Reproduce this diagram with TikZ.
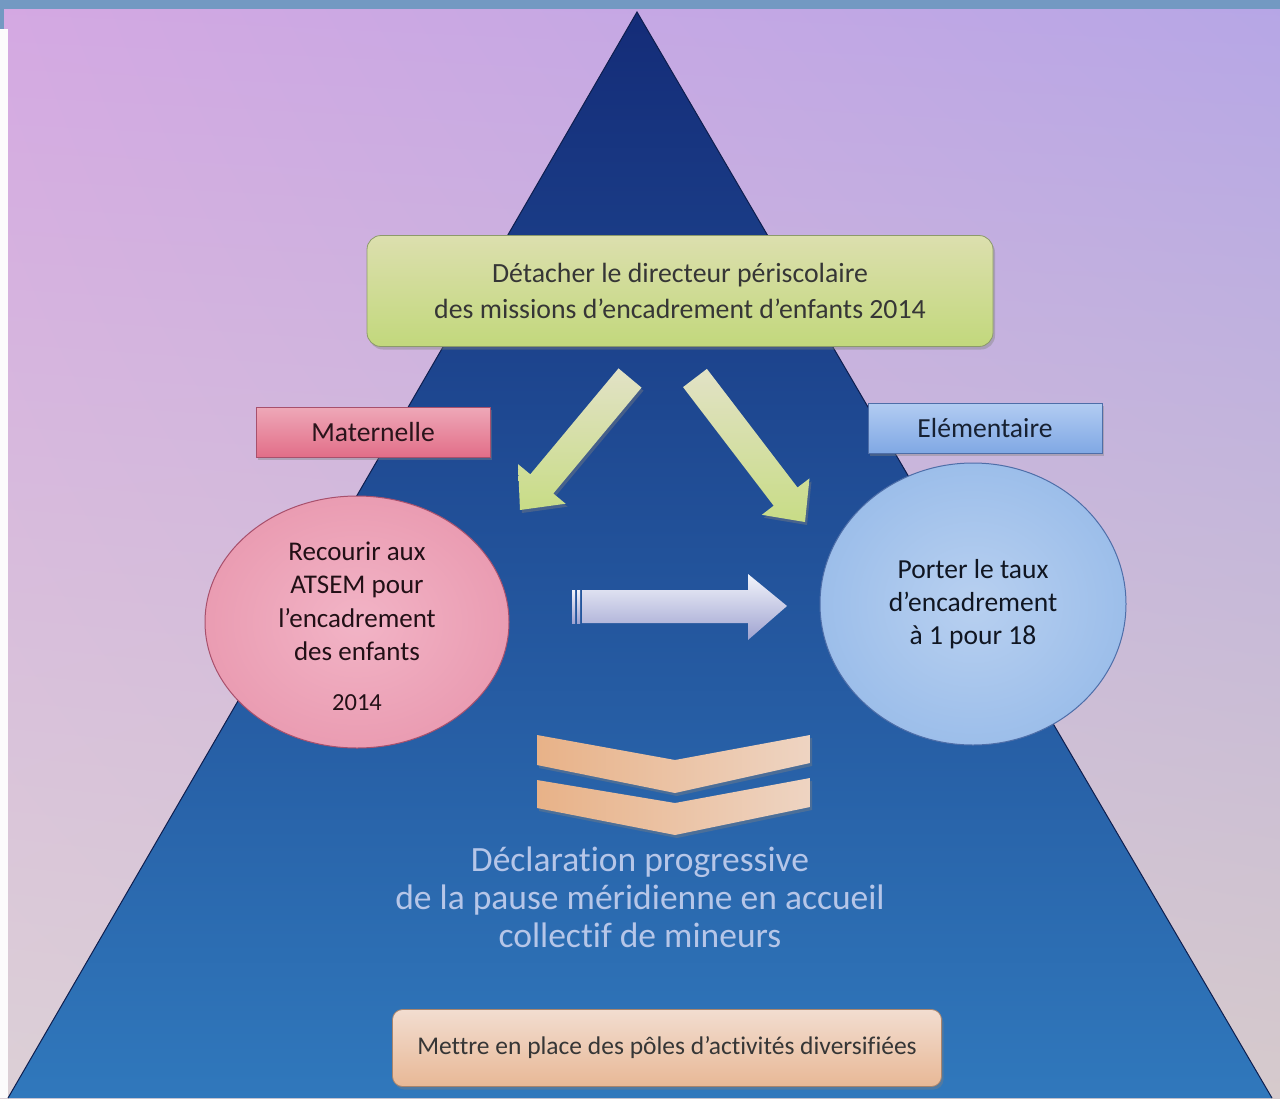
\documentclass[tikz,border=0pt]{standalone}
\usepackage{fontspec}
\setmainfont{Carlito}[Ligatures=NoCommon]
\usetikzlibrary{shapes.geometric,shadows,shadings}
\definecolor{bgUL}{HTML}{D4A8E2}
\definecolor{bgUR}{HTML}{B6A6E6}
\definecolor{bgLL}{HTML}{DCD0D6}
\definecolor{bgLR}{HTML}{D6CACC}
\definecolor{band}{HTML}{7399C2}
\definecolor{triTop}{HTML}{142C78}
\definecolor{triMid}{HTML}{1C4EA2}
\definecolor{triBot}{HTML}{3078BC}
\definecolor{triEdge}{HTML}{0E1E4E}
\definecolor{greenTop}{HTML}{DCDFAE}
\definecolor{greenBot}{HTML}{C2D87C}
\definecolor{greenEdge}{HTML}{8C9A6A}
\definecolor{pinkTop}{HTML}{EEA8B8}
\definecolor{pinkBot}{HTML}{E26E88}
\definecolor{pinkEdge}{HTML}{A8506C}
\definecolor{blueTop}{HTML}{B2CCF2}
\definecolor{blueBot}{HTML}{80A8E4}
\definecolor{blueEdge}{HTML}{4E6EA8}
\definecolor{pinkIn}{HTML}{F2B4C6}
\definecolor{pinkOut}{HTML}{EA9CB2}
\definecolor{lblueIn}{HTML}{B8D0F0}
\definecolor{lblueOut}{HTML}{9CBEEA}
\definecolor{arrGTop}{HTML}{E2E2C6}
\definecolor{arrGBot}{HTML}{C8DC86}
\definecolor{arrWTop}{HTML}{F2F4FB}
\definecolor{arrWBot}{HTML}{9EA2D0}
\definecolor{chevL}{HTML}{E8B288}
\definecolor{chevR}{HTML}{EED4C2}
\definecolor{bigText}{HTML}{B6C6E8}
\definecolor{darkText}{HTML}{363636}
\definecolor{peachTop}{HTML}{F2DDD0}
\definecolor{peachBot}{HTML}{E8B896}
\definecolor{peachEdge}{HTML}{A8846C}
\begin{document}
\begin{tikzpicture}[x=1pt,y=-1pt,
  softshadow/.style={drop shadow={opacity=0.4,shadow xshift=2pt,shadow yshift=-3pt}},
  topbox/.style={rectangle,rounded corners=14pt,minimum width=626pt,minimum height=111pt,
    align=center,top color=greenTop,bottom color=greenBot,draw=greenEdge,line width=0.8pt,
    text=darkText,font=\fontsize{27.8}{36}\selectfont,softshadow},
  tagbox/.style={rectangle,minimum width=234pt,minimum height=50pt,line width=0.8pt,
    font=\fontsize{27.6}{30}\selectfont,softshadow},
  bubble/.style={ellipse,line width=1pt,align=center,font=\fontsize{27.5}{33}\selectfont},
  bottombox/.style={rectangle,rounded corners=10pt,minimum width=549pt,minimum height=77pt,
    top color=peachTop,bottom color=peachBot,draw=peachEdge,line width=0.8pt,
    text=darkText,font=\fontsize{25.5}{28}\selectfont,softshadow}]
\useasboundingbox (0,0) rectangle (1280,1098);
% background
\shade[upper left=bgUL,upper right=bgUR,lower left=bgLL,lower right=bgLR] (0,0) rectangle (1280,1098);
\fill[white!92!bgLL] (0,29) rectangle (8,1098);
\fill[band] (0,0) rectangle (1280,9);
\fill[band] (0,0) rectangle (4,29);
% pyramid
\shade[top color=triTop,middle color=triMid,bottom color=triBot] (637,12) -- (1272,1098) -- (8,1098) -- cycle;
\draw[triEdge,line width=1pt] (8,1098) -- (637,12) -- (1272,1098);
% top box
\node[topbox] (dir) at (680,291) {Détacher le directeur périscolaire\\des missions d’encadrement d’enfants 2014};
% tags
\node[tagbox,top color=pinkTop,bottom color=pinkBot,draw=pinkEdge,text=black!75!pinkEdge] (mat) at (373,432) {Maternelle};
\node[tagbox,top color=blueTop,bottom color=blueBot,draw=blueEdge,text=black!70!blueEdge] (elem) at (985,428) {Elémentaire};
% green arrows
\shade[top color=arrGTop,bottom color=arrGBot,softshadow]
  (618.5,368.4) -- (641.5,387.6) -- (553.3,493.5) -- (565.6,503.7) -- (520,510) -- (518.0,464.1) -- (530.3,474.3) -- cycle;
\shade[top color=arrGTop,bottom color=arrGBot,softshadow]
  (706.9,368.9) -- (797.5,487.5) -- (809.5,478.4) -- (805,522) -- (761.8,514.8) -- (773.7,505.7) -- (683.1,387.1) -- cycle;
% circles
\node[bubble,minimum width=304pt,minimum height=252pt,inner color=pinkIn,outer color=pinkOut,draw=pinkEdge] (atsem) at (357,622) {};
\node[align=center,font=\fontsize{27}{33.5}\selectfont,text=black!80!pinkEdge] (atsemtxt) at (357,626) {Recourir aux\\ATSEM pour\\l’encadrement\\des enfants\\[16pt]{\fontsize{24.5}{28}\selectfont 2014}};
\node[bubble,minimum width=306pt,minimum height=282pt,inner color=lblueIn,outer color=lblueOut,draw=blueEdge,text=black!80!blueEdge] (taux) at (973,604) {Porter le taux\\d’encadrement\\à 1 pour 18};
% horizontal arrow
\shade[top color=arrWTop,bottom color=arrWBot]
  (582,590) -- (748,590) -- (748,574) -- (787,606) -- (748,640) -- (748,623) -- (582,623) -- cycle;
\shade[top color=arrWTop,bottom color=arrWBot] (572,590) rectangle (575,623);
\shade[top color=arrWTop,bottom color=arrWBot] (577,590) rectangle (580,623);
% chevrons
\shade[left color=chevL,right color=chevR,softshadow]
  (537,735) -- (675,760) -- (810,735) -- (810,763) -- (675,793) -- (537,765) -- cycle;
\shade[left color=chevL,right color=chevR,softshadow]
  (537,780) -- (675,803) -- (810,778) -- (810,807) -- (675,835) -- (537,808) -- cycle;
% big text
\node[align=center,text=bigText,font=\fontsize{35.5}{38}\selectfont] (decl) at (640,897) {Déclaration progressive\\de la pause méridienne en accueil\\collectif de mineurs};
% bottom box
\node[bottombox] (poles) at (667,1048) {Mettre en place des pôles d’activités diversifiées};
\end{tikzpicture}
\end{document}
